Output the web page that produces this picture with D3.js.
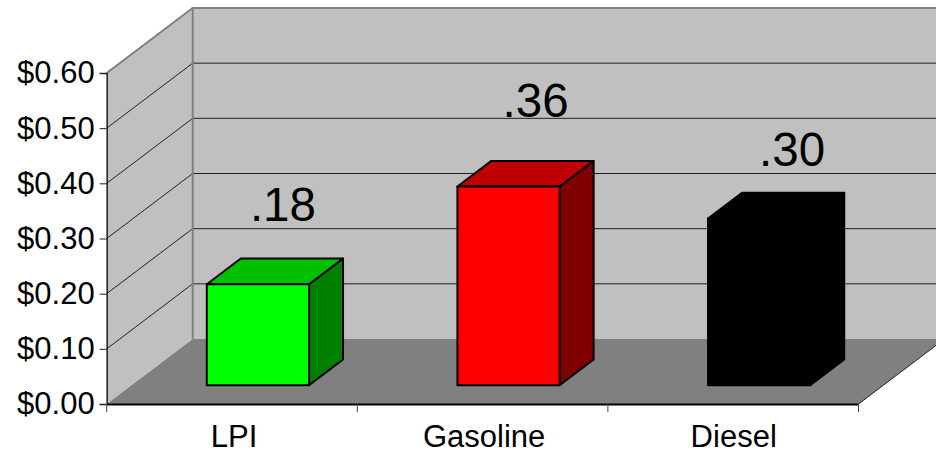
<!DOCTYPE html>
<html>
<head>
<meta charset="utf-8">
<style>
  body { margin: 0; background: #fff; }
  svg { display: block; }
  text { font-family: "Liberation Sans", Arial, sans-serif; fill: #000; }
</style>
<script src="https://cdn.jsdelivr.net/npm/d3@7"></script>
</head>
<body>
<div id="chart"></div>
<script>
// Data
var categories = ["LPI", "Gasoline", "Diesel"];
var prices = [0.183, 0.36, 0.302];
var priceLabels = [".18", ".36", ".30"];
var yTicks = [0, 0.1, 0.2, 0.3, 0.4, 0.5, 0.6];
var faceColors = ["#00ff00", "#ff0000", "#000000"];
var topColors = ["#00c000", "#c00000", "#000000"];
var sideColors = ["#008000", "#800000", "#000000"];

var svgWidth = 936;
var svgHeight = 451;

// The front plane of the box
var plot = { left: 106.7, right: 858.5, top: 73, bottom: 404 };

// Oblique offset of the back wall from the front plane
var depthX = 86;
var depthY = -65;

// Bars sit between these two fractions of the depth
var barZ0 = 0.29;
var barZ1 = 0.685;

var svg = d3.select("#chart")
  .append("svg")
  .attr("width", svgWidth)
  .attr("height", svgHeight);

var xScale = d3.scaleBand()
  .domain(categories)
  .range([plot.left + 1, plot.right + 1])
  .paddingInner(0.592)
  .paddingOuter(0.296);

var xOuter = d3.scaleBand()
  .domain(categories)
  .range([plot.left, plot.right]);

var yScale = d3.scaleLinear()
  .domain([0, 0.6])
  .range([plot.bottom, plot.top]);

// Turn plot position plus depth into screen position
function project(x, value, z) {
  return [x + depthX * z, yScale(value) + depthY * z];
}

function poly(points) {
  return "M" + points.map(p => p.join(",")).join("L") + "Z";
}

// Walls and floor
svg.append("path")
  .attr("d", poly([project(plot.left, 0, 1), project(plot.right, 0, 1), project(plot.right, 0.6, 1), project(plot.left, 0.6, 1)]))
  .attr("fill", "#c0c0c0");

svg.append("path")
  .attr("d", poly([project(plot.left, 0, 0), project(plot.left, 0, 1), project(plot.left, 0.6, 1), project(plot.left, 0.6, 0)]))
  .attr("fill", "#c0c0c0");

// Gridlines along the side wall and across the back wall
var grid = svg.append("g");

grid.selectAll("path")
  .data(yTicks.filter(d => d > 0 && d < 0.6))
  .enter()
  .append("path")
  .attr("d", d => "M" + project(plot.left, d, 0) + "L" + project(plot.left, d, 1) + "L" + project(plot.right, d, 1))
  .attr("fill", "none")
  .attr("stroke", "#222")
  .attr("stroke-width", 1);

// Gray outline of the walls
svg.append("path")
  .attr("d", "M" + project(plot.left, 0, 1) + "L" + project(plot.left, 0.6, 1) + "L" + project(plot.right, 0.6, 1))
  .attr("fill", "none")
  .attr("stroke", "#808080")
  .attr("stroke-width", 2);

svg.append("path")
  .attr("d", "M" + project(plot.left, 0.6, 0) + "L" + project(plot.left, 0.6, 1))
  .attr("fill", "none")
  .attr("stroke", "#808080")
  .attr("stroke-width", 2);

svg.append("path")
  .attr("d", poly([project(plot.left, 0, 0), project(plot.right, 0, 0), project(plot.right, 0, 1), project(plot.left, 0, 1)]))
  .attr("fill", "#808080");

svg.append("path")
  .attr("d", "M" + project(plot.right, 0, 0) + "L" + project(plot.right, 0, 1))
  .attr("fill", "none")
  .attr("stroke", "#222")
  .attr("stroke-width", 1);

// Bars: front face, top and right side
var bars = svg.selectAll(".bar")
  .data(categories)
  .enter()
  .append("g")
  .attr("class", "bar")
  .attr("stroke", "#000")
  .attr("stroke-width", 2)
  .attr("stroke-linejoin", "round");

function corners(i) {
  var x0 = xScale(categories[i]);
  var x1 = x0 + xScale.bandwidth();
  var v = prices[i];
  return {
    front: [project(x0, 0, barZ0), project(x1, 0, barZ0), project(x1, v, barZ0), project(x0, v, barZ0)],
    top: [project(x0, v, barZ0), project(x1, v, barZ0), project(x1, v, barZ1), project(x0, v, barZ1)],
    side: [project(x1, 0, barZ0), project(x1, 0, barZ1), project(x1, v, barZ1), project(x1, v, barZ0)]
  };
}

bars.append("path").attr("d", (d, i) => poly(corners(i).side)).attr("fill", (d, i) => sideColors[i]);
bars.append("path").attr("d", (d, i) => poly(corners(i).top)).attr("fill", (d, i) => topColors[i]);
bars.append("path").attr("d", (d, i) => poly(corners(i).front)).attr("fill", (d, i) => faceColors[i]);

// Axes
var leftAxis = d3.axisLeft(yScale)
  .tickValues(yTicks)
  .tickSize(7)
  .tickPadding(5)
  .tickFormat(d3.format("$.2f"));

var bottomAxis = d3.axisBottom(xOuter)
  .tickSize(0)
  .tickPadding(21);

var yAxisGrp = svg.append("g")
  .attr("transform", `translate(${plot.left}, 0)`)
  .call(leftAxis);

yAxisGrp.selectAll("text").attr("font-size", 31).style("font-family", "Liberation Sans");
yAxisGrp.selectAll("line").attr("stroke", "#222");
yAxisGrp.select(".domain").attr("stroke", "#222").attr("stroke-width", 1.5);

var xAxisGrp = svg.append("g")
  .attr("transform", `translate(0, ${plot.bottom})`)
  .call(bottomAxis);

// Category labels are slightly off their band centres in the original
var categoryShift = [2, 1.5, 0.5];

xAxisGrp.select(".domain").attr("stroke", "#000").attr("stroke-width", 2);
xAxisGrp.selectAll("text")
  .attr("font-size", 31)
  .attr("dx", (d, i) => categoryShift[i])
  .style("font-family", "Liberation Sans");

// Category separators hang below the floor edge
xAxisGrp.selectAll(".sep")
  .data([0, 1, 2, 3])
  .enter()
  .append("line")
  .attr("class", "sep")
  .attr("x1", i => plot.left + xOuter.step() * i)
  .attr("x2", i => plot.left + xOuter.step() * i)
  .attr("y1", 0)
  .attr("y2", 8)
  .attr("stroke", "#444");

// Value labels were placed by hand in the original, so they carry their own shift
var labelShiftX = [25, 27, 33];
var labelShiftY = [63, 70, 53];

svg.selectAll(".value")
  .data(priceLabels)
  .enter()
  .append("text")
  .attr("class", "value")
  .attr("text-anchor", "middle")
  .attr("font-size", 47.5)
  .attr("x", (d, i) => project(xScale(categories[i]) + xScale.bandwidth() / 2, 0, barZ0)[0] + labelShiftX[i])
  .attr("y", (d, i) => project(0, prices[i], barZ0)[1] - labelShiftY[i])
  .text(d => d);
</script>
</body>
</html>
